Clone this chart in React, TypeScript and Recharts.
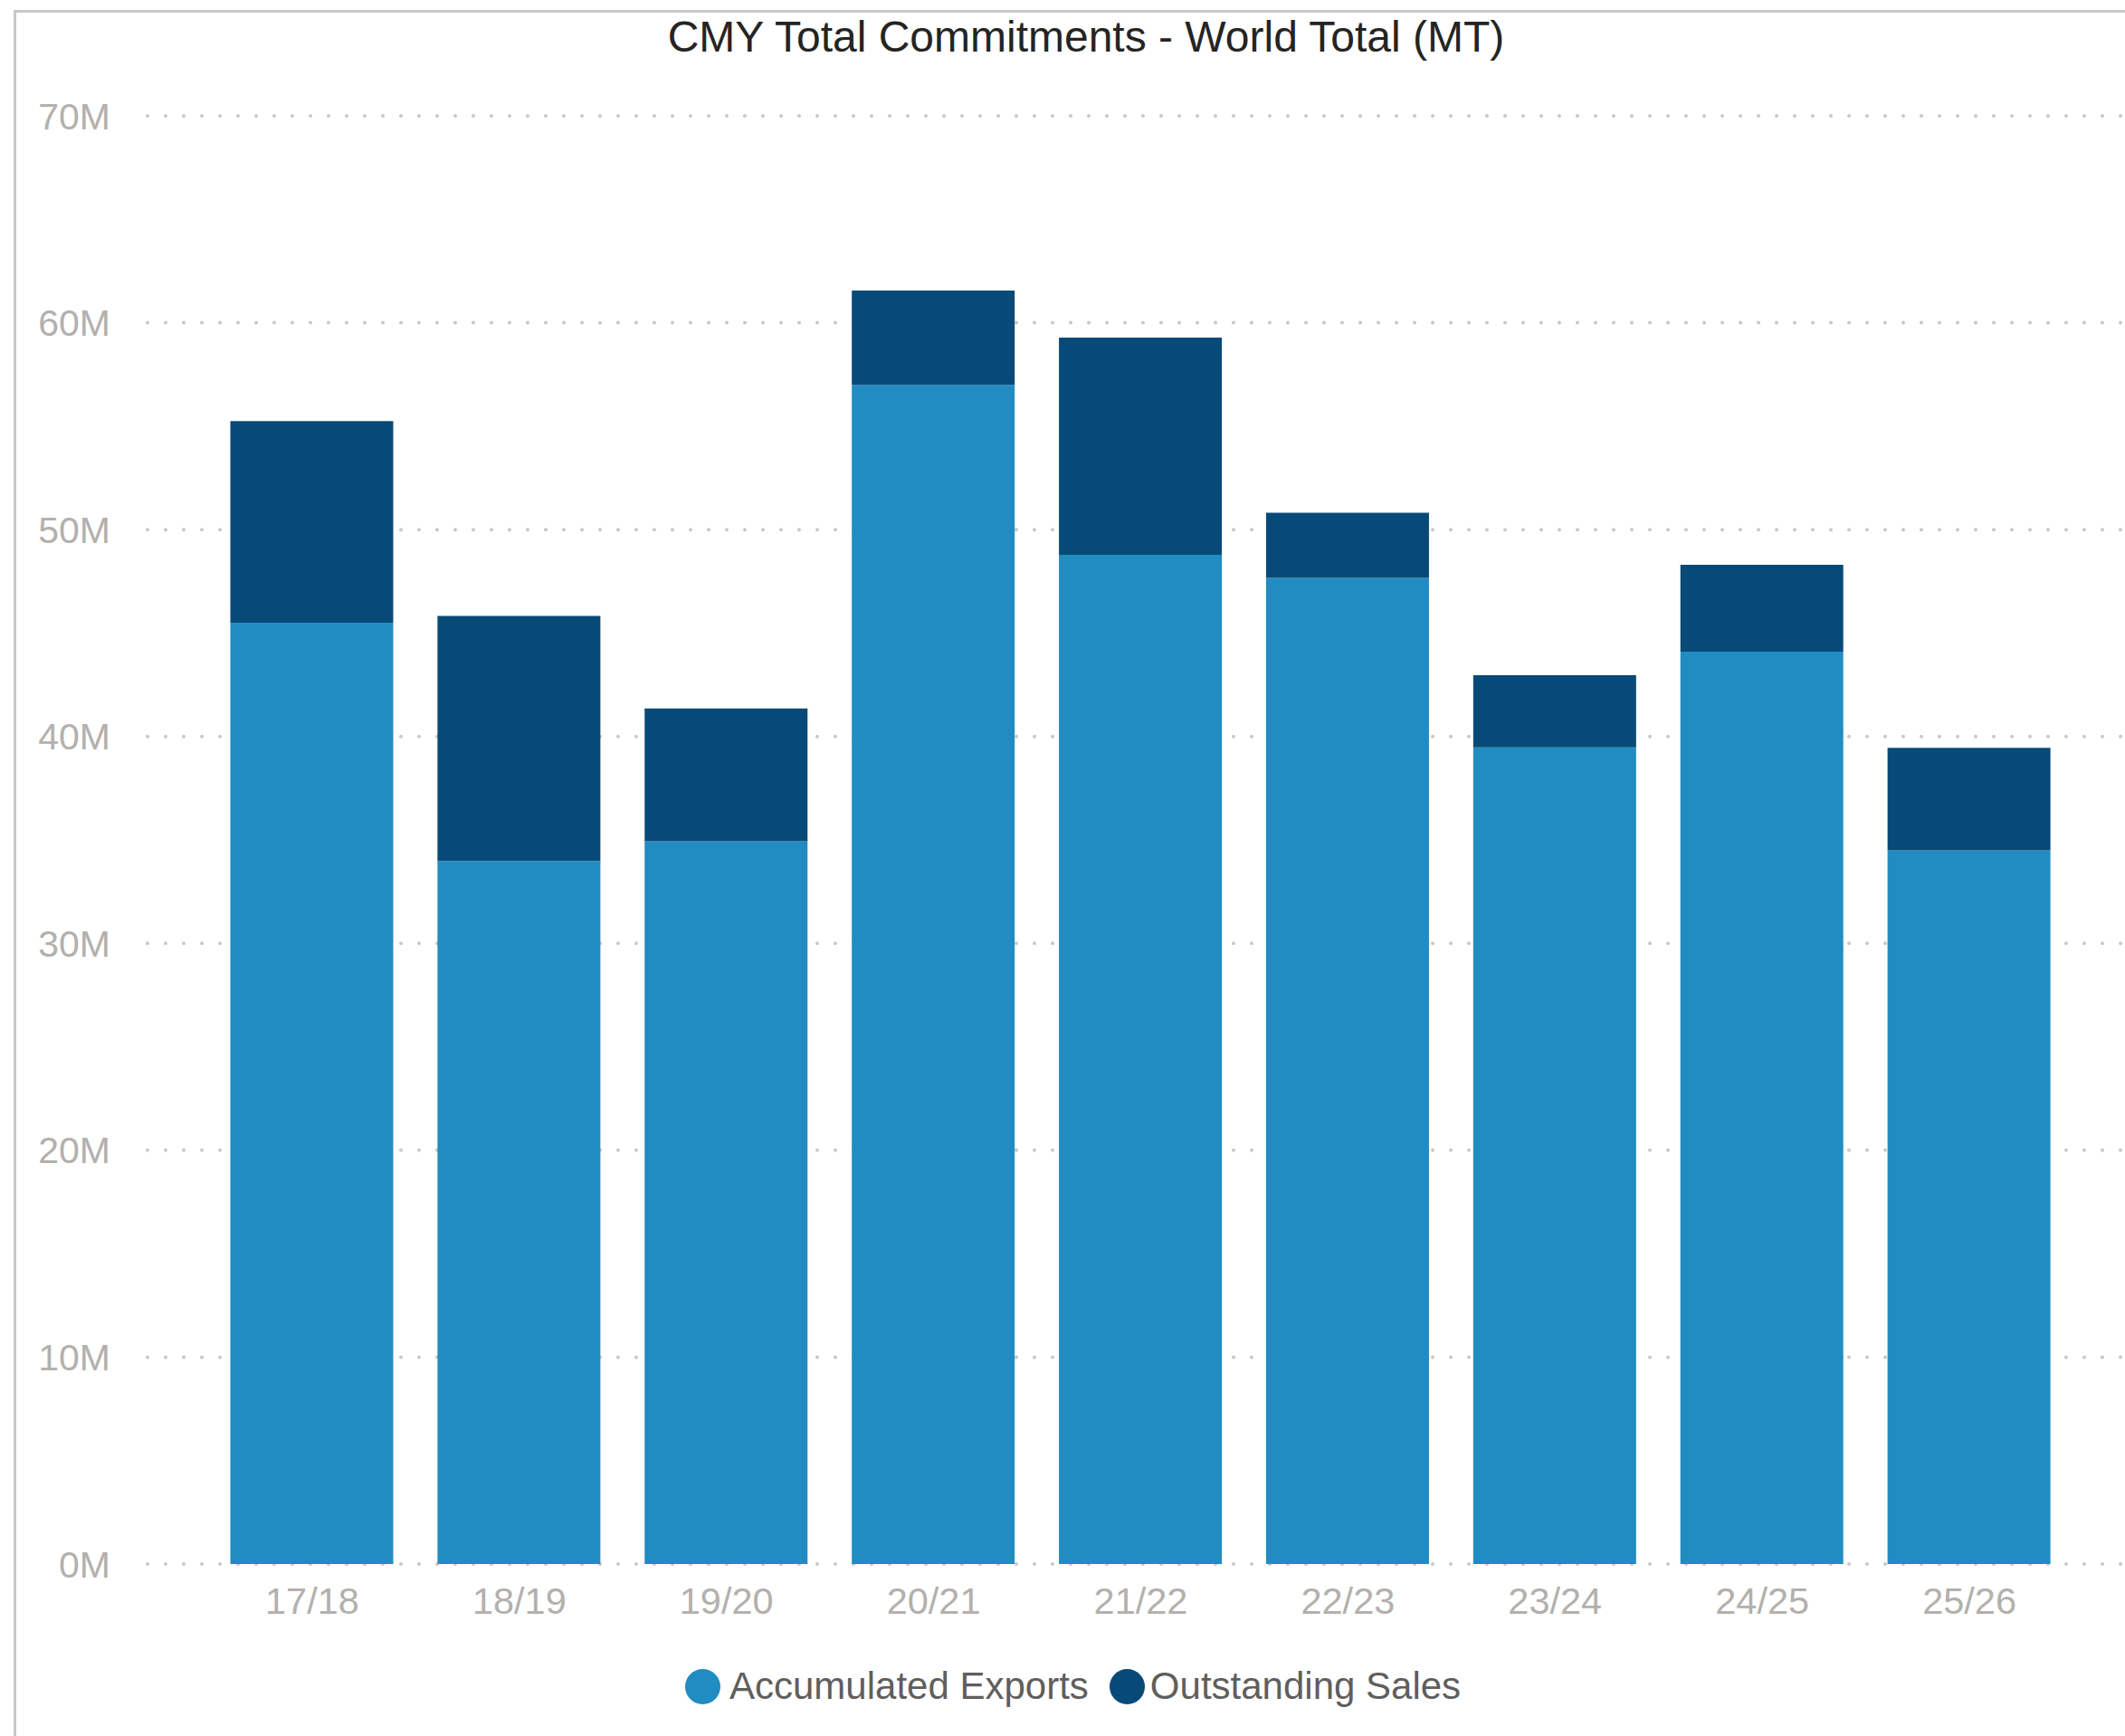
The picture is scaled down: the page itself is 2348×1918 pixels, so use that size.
import React from 'react';
import { BarChart, Bar, XAxis, YAxis, CartesianGrid, Legend } from 'recharts';

const FONT = '"Liberation Sans", Arial, Helvetica, sans-serif';

// Marketing years
const categories = ['17/18', '18/19', '19/20', '20/21', '21/22', '22/23', '23/24', '24/25', '25/26'];
// Values in million MT
const accumulatedExports = [45.5, 33.98, 34.93, 56.99, 48.78, 47.67, 39.47, 44.1, 34.5];
const outstandingSales = [9.75, 11.85, 6.43, 4.57, 10.5, 3.15, 3.49, 4.2, 4.95];
const yTicks = [0, 10, 20, 30, 40, 50, 60, 70];

const seriesNames = ['Accumulated Exports', 'Outstanding Sales'];
const seriesColors = ['#218CC2', '#074A78'];

const data = categories.map((c, i) => ({
  season: c,
  acc: accumulatedExports[i],
  out: outstandingSales[i],
}));

const renderLegend = () => (
  <div
    style={{
      display: 'flex',
      alignItems: 'center',
      height: 60,
      paddingLeft: 757,
      boxSizing: 'border-box',
      fontFamily: FONT,
      fontSize: 42,
      color: '#605E5C',
      whiteSpace: 'nowrap',
    }}
  >
    {seriesNames.map((n, i) => (
      <div key={n} style={{ display: 'flex', alignItems: 'center', marginRight: 23 }}>
        <span
          style={{
            display: 'inline-block',
            width: 39,
            height: 39,
            borderRadius: '50%',
            background: seriesColors[i],
            marginRight: i === 0 ? 10 : 6,
          }}
        />
        <span>{n}</span>
      </div>
    ))}
  </div>
);

export default function App() {
  return (
    <div
      style={{
        position: 'absolute',
        left: 0,
        top: 0,
        width: 2348,
        height: 1918,
        background: '#ffffff',
        fontFamily: FONT,
        overflow: 'hidden',
      }}
    >
      <div
        style={{
          position: 'absolute',
          left: 15,
          top: 11,
          right: -10,
          bottom: -10,
          borderTop: '3px solid #C8C8C8',
          borderLeft: '3px solid #C8C8C8',
        }}
      />
      <div
        style={{
          position: 'absolute',
          left: 0,
          top: 17,
          width: 2400,
          textAlign: 'center',
          fontSize: 48,
          lineHeight: 1,
          color: '#252423',
          whiteSpace: 'nowrap',
        }}
      >
        CMY Total Commitments - World Total (MT)
      </div>
      <BarChart
        width={2348}
        height={1918}
        data={data}
        margin={{ top: 128, right: 4, bottom: 25, left: 0 }}
      >
        <CartesianGrid
          horizontal
          vertical={false}
          stroke="#C8C8C8"
          strokeWidth={4}
          strokeDasharray="0 20"
          strokeLinecap="round"
        />
        <XAxis
          dataKey="season"
          axisLine={false}
          tickLine={false}
          tickSize={0}
          tickMargin={26}
          height={105}
          interval={0}
          padding={{ left: 67.5, right: 53.5 }}
          tick={{ fill: '#B3B0AD', fontSize: 41.5, fontFamily: FONT }}
        />
        <YAxis
          domain={[0, 70]}
          ticks={yTicks}
          axisLine={false}
          tickLine={false}
          tickSize={0}
          tickMargin={41}
          width={163}
          tickFormatter={(v: number) => `${v}M`}
          tick={{ fill: '#B3B0AD', fontSize: 41, fontFamily: FONT }}
        />
        <Legend verticalAlign="bottom" content={renderLegend} />
        <Bar dataKey="acc" name={seriesNames[0]} stackId="a" fill={seriesColors[0]} barSize={180} isAnimationActive={false} />
        <Bar dataKey="out" name={seriesNames[1]} stackId="a" fill={seriesColors[1]} barSize={180} isAnimationActive={false} />
      </BarChart>
    </div>
  );
}
